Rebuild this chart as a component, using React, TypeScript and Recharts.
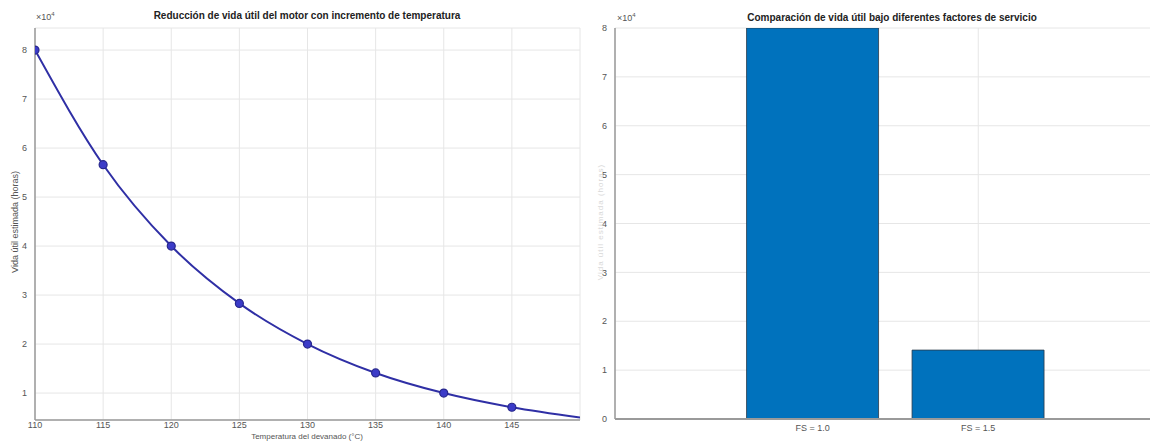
import {
  LineChart,
  Line,
  BarChart,
  Bar,
  XAxis,
  YAxis,
  CartesianGrid,
} from "recharts";

// Temperatura del devanado (°C) y vida útil estimada (horas)
const temperaturas = [110, 115, 120, 125, 130, 135, 140, 145, 150];
const vidaUtil = [80000, 56600, 40000, 28300, 20000, 14100, 10000, 7100, 5000];
const ticksTemp = [110, 115, 120, 125, 130, 135, 140, 145];
const ticksVida = [10000, 20000, 30000, 40000, 50000, 60000, 70000, 80000];

// Comparación por factor de servicio
const factores = ["FS = 1.0", "FS = 1.5"];
const vidaFactor = [80000, 14100];
const ticksBarras = [0, 10000, 20000, 30000, 40000, 50000, 60000, 70000, 80000];

const lineData = temperaturas.map((t, i) => ({ t, vida: vidaUtil[i] }));
const barData = factores.map((name, i) => ({ name, vida: vidaFactor[i] }));

const FONT = "'Liberation Sans', Arial, sans-serif";
const AXIS = "#9a9a9a";
const GRID = "#e6e6e6";
const tickStyle = { fontSize: 9, fill: "#555", fontFamily: FONT };
const fmt = (v: number) => `${Math.round(v / 10000)}`;

const abs = (x: number, y: number, extra: any = {}) => ({
  position: "absolute" as const,
  left: x,
  top: y,
  fontFamily: FONT,
  whiteSpace: "nowrap" as const,
  lineHeight: 1,
  ...extra,
});

const Dot = (props: any) => {
  const { cx, cy, payload } = props;
  if (payload.t >= 150) return <g key={`d${payload.t}`} />;
  return (
    <circle
      key={`d${payload.t}`}
      cx={cx}
      cy={cy}
      r={4}
      fill="#3b3bc8"
      stroke="#27278c"
      strokeWidth={1.2}
    />
  );
};

export default function App() {
  return (
    <div
      style={{
        position: "fixed",
        left: 0,
        top: 0,
        width: 1150,
        height: 441,
        overflow: "hidden",
        background: "#fff",
      }}
    >
      {/* Vida útil vs temperatura */}
      <div style={{ position: "absolute", left: 0, top: 0 }}>
        <LineChart
          width={590}
          height={441}
          data={lineData}
          margin={{ top: 28, right: 10, left: 10, bottom: 0 }}
        >
          <CartesianGrid stroke={GRID} />
          <XAxis
            dataKey="t"
            type="number"
            domain={[110, 150]}
            ticks={ticksTemp}
            allowDataOverflow
            height={21}
            tick={tickStyle}
            tickLine={false}
            tickSize={2}
            tickMargin={0}
            stroke={AXIS}
            strokeWidth={1.5}
          />
          <XAxis
            xAxisId="top"
            orientation="top"
            dataKey="t"
            type="number"
            domain={[110, 150]}
            height={0}
            tick={false}
            tickLine={false}
            stroke={AXIS}
            strokeWidth={1.5}
          />
          <YAxis
            type="number"
            domain={[4500, 84500]}
            ticks={ticksVida}
            allowDataOverflow
            width={25}
            tick={tickStyle}
            tickLine={false}
            tickFormatter={fmt}
            stroke={AXIS}
            strokeWidth={1.5}
          />
          <YAxis
            yAxisId="right"
            orientation="right"
            domain={[4500, 84500]}
            width={0}
            tick={false}
            tickLine={false}
            stroke={AXIS}
            strokeWidth={1.5}
          />
          <Line
            type="monotone"
            dataKey="vida"
            stroke="#2f2fa5"
            strokeWidth={2}
            dot={Dot}
            isAnimationActive={false}
          />
        </LineChart>
      </div>

      {/* Comparación por factor de servicio */}
      <div style={{ position: "absolute", left: 580, top: 0 }}>
        <BarChart
          width={600}
          height={441}
          data={barData}
          margin={{ top: 28, right: 4, left: 10, bottom: 0 }}
          barCategoryGap="10%"
        >
          <CartesianGrid stroke={GRID} />
          <XAxis
            dataKey="name"
            padding={{ left: 115, right: 115 }}
            height={22}
            tick={tickStyle}
            tickLine={false}
            tickSize={4}
            tickMargin={2}
            stroke={AXIS}
            strokeWidth={2}
          />
          <XAxis
            xAxisId="top"
            orientation="top"
            dataKey="name"
            height={0}
            tick={false}
            tickLine={false}
            stroke={AXIS}
            strokeWidth={1.5}
          />
          <YAxis
            type="number"
            domain={[0, 80000]}
            ticks={ticksBarras}
            allowDataOverflow
            width={25}
            tick={tickStyle}
            tickLine={false}
            tickFormatter={fmt}
            stroke={AXIS}
            strokeWidth={1.5}
          />
          <Bar
            dataKey="vida"
            fill="#0072BD"
            stroke="#2a3a4a"
            strokeWidth={0.8}
            isAnimationActive={false}
          />
        </BarChart>
      </div>

      {/* Títulos y etiquetas */}
      <div style={abs(307, 11, { transform: "translateX(-50%)", fontSize: 10, fontWeight: 700, color: "#222" })}>
        Reducción de vida útil del motor con incremento de temperatura
      </div>
      <div style={abs(892, 13, { transform: "translateX(-50%)", fontSize: 10, fontWeight: 700, color: "#222" })}>
        Comparación de vida útil bajo diferentes factores de servicio
      </div>
      <div style={abs(36, 11, { fontSize: 9, color: "#555" })}>
        ×10<sup style={{ fontSize: 6 }}>4</sup>
      </div>
      <div style={abs(617, 12, { fontSize: 9, color: "#555" })}>
        ×10<sup style={{ fontSize: 6 }}>4</sup>
      </div>
      <div style={abs(307, 433, { transform: "translateX(-50%)", fontSize: 8, color: "#555" })}>
        Temperatura del devanado (°C)
      </div>
      <div style={abs(15, 222, { transform: "translate(-50%, -50%) rotate(-90deg)", fontSize: 9, color: "#555" })}>
        Vida útil estimada (horas)
      </div>
      <div style={abs(601, 222, { transform: "translate(-50%, -50%) rotate(-90deg)", fontSize: 8, color: "#d8d8d8", letterSpacing: 1 })}>
        Vida útil estimada (horas)
      </div>
    </div>
  );
}
